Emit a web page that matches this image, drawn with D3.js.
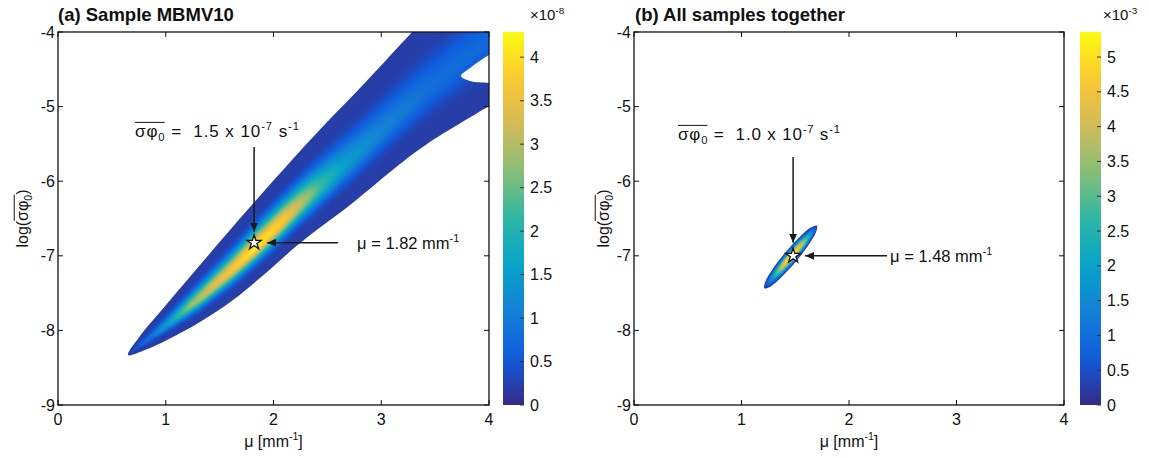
<!DOCTYPE html>
<html>
<head>
<meta charset="utf-8">
<script src="https://cdn.jsdelivr.net/npm/d3@7"></script>
<style>
  body { margin: 0; background: #fff; }
  svg { display: block; }
  text { font-family: "Liberation Sans", Arial, Helvetica, sans-serif; fill: #111; }
</style>
</head>
<body>
<svg id="chart" width="1151" height="457"></svg>
<script>
// ---------- axis ticks ----------
const muTicks = [0, 1, 2, 3, 4];
const logTicks = [-4, -5, -6, -7, -8, -9];
const cbTicksA = [0, 0.5, 1, 1.5, 2, 2.5, 3, 3.5, 4];
const cbTicksB = [0, 0.5, 1, 1.5, 2, 2.5, 3, 3.5, 4, 4.5, 5];

// ---------- panel (a): likelihood band, [mu, log(sigma*phi0)] ----------
// outline runs past the right/top frame, where it is cut by the axes
const bandA_upper = [[0.650, -8.33], [0.761, -8.075], [0.947, -7.753], [1.318, -7.123],
                     [1.782, -6.346], [2.367, -5.407], [2.803, -4.751], [3.295, -3.987],
                     [4.0, -2.90], [4.25, -2.55]];
const bandA_lower = [[0.650, -8.33], [0.807, -8.263], [1.012, -8.129], [1.318, -7.887],
                     [1.624, -7.592], [1.940, -7.217], [2.247, -6.828], [2.710, -6.319],
                     [3.174, -5.769], [3.425, -5.501], [4.0, -4.992], [4.25, -4.77]];
// peak value along the ridge of the band (x 1e-8)
const bandA_ridge = [[0.65, 0.3], [0.85, 0.8], [1.04, 1.6], [1.22, 2.7], [1.41, 3.3], [1.64, 3.7],
                     [1.83, 4.15], [2.07, 3.8], [2.25, 3.1], [2.44, 2.2], [2.67, 1.5], [3.0, 1.1],
                     [3.47, 0.8], [4.0, 0.7]];
// empty pocket at the right edge
const bandA_notch = [[3.740, -4.590], [3.824, -4.483], [4.0, -4.308], [4.1, -4.25],
                     [4.1, -4.70], [4.0, -4.684], [3.824, -4.657]];
const estA = { mu: 1.82, sigmaPhi: 1.5e-7 };

// ---------- panel (b): all samples ----------
const bandB_upper = [[1.213, -7.437], [1.220, -7.350], [1.292, -7.172], [1.407, -6.956],
                     [1.537, -6.754], [1.644, -6.622], [1.701, -6.595]];
const bandB_lower = [[1.213, -7.437], [1.271, -7.412], [1.377, -7.279], [1.507, -7.077],
                     [1.622, -6.858], [1.694, -6.682], [1.701, -6.595]];
const bandB_ridge = [[1.213, 0.3], [1.27, 1.4], [1.33, 3.0], [1.40, 4.6], [1.46, 5.25],
                     [1.52, 4.7], [1.58, 3.6], [1.64, 2.0], [1.701, 0.3]];
const estB = { mu: 1.48, sigmaPhi: 1.0e-7 };

// parula-like colormap stops
const parula = ["#352a87", "#0f5cdd", "#1481d6", "#06a4ca", "#2eb7a4",
                "#87bf77", "#d1bb59", "#fec832", "#f9fb0e"];

// ---------- layout ----------
const TOP = 32, BOTTOM = 405;
const panels = [
  { title: "(a) Sample MBMV10", titleX: 58, left: 58, right: 489, yTitleX: 28,
    cbX: 503, cbMax: 4.29, cbTicks: cbTicksA, cbExp: "-8", cbExpX: 530,
    upper: bandA_upper, lower: bandA_lower, ridge: bandA_ridge, frac: 0.58, rim: 0.2, k: 7,
    notch: bandA_notch, est: estA,
    sigmaText: "1.5", sigmaLabel: { x: 135, y: 137, len: 164 }, muLabel: { dx: 103, dy: 6 },
    vArrow: { top: 147, gap: 11 }, hArrow: { len: 84, gap: 13 } },
  { title: "(b) All samples together", titleX: 635, left: 634, right: 1064, yTitleX: 609,
    cbX: 1080, cbMax: 5.36, cbTicks: cbTicksB, cbExp: "-3", cbExpX: 1103,
    upper: bandB_upper, lower: bandB_lower, ridge: bandB_ridge, frac: 0.5, rim: 0.25, k: 2,
    notch: null, est: estB,
    sigmaText: "1.0", sigmaLabel: { x: 678, y: 140, len: 162 }, muLabel: { dx: 97, dy: 6 },
    vArrow: { top: 157, gap: 13 }, hArrow: { len: 94, gap: 12 } }
];

const svg = d3.select("#chart");
const FS = 16;

const cmap = d3.scaleLinear()
  .domain(parula.map((_, i) => i / (parula.length - 1)))
  .range(parula)
  .interpolate(d3.interpolateRgb)
  .clamp(true);

const defs = svg.append("defs");
defs.append("marker")
  .attr("id", "head").attr("viewBox", "0 0 10 10").attr("refX", 10).attr("refY", 5)
  .attr("markerWidth", 9).attr("markerHeight", 9).attr("markerUnits", "userSpaceOnUse")
  .attr("orient", "auto")
  .append("path").attr("d", "M0,0.6 L10,5 L0,9.4 Z").attr("fill", "#1a1a1a");

// text with super/subscripts and optional overline
function richText(g, x, y, parts, size, anchor, length) {
  const text = g.append("text").attr("x", x).attr("y", y).attr("font-size", size)
    .attr("text-anchor", anchor || "start").attr("xml:space", "preserve");
  if (length) text.attr("textLength", length).attr("lengthAdjust", "spacing");
  let shift = 0;
  const spans = parts.map(p => {
    const want = p.sup ? -0.42 * size : p.sub ? 0.22 * size : 0;
    const s = text.append("tspan").attr("dy", want - shift)
      .attr("font-size", (p.sup || p.sub) ? size * 0.66 : size).text(p.t);
    shift = want;
    return { s, p };
  });
  const over = spans.filter(d => d.p.over);
  if (over.length) {
    const a = over[0].s.node(), b = over[over.length - 1].s.node();
    const x0 = a.getStartPositionOfChar(0).x;
    const x1 = b.getEndPositionOfChar(b.getNumberOfChars() - 1).x;
    g.append("line").attr("x1", x0).attr("x2", x1)
      .attr("y1", y - size * 0.86).attr("y2", y - size * 0.86)
      .attr("stroke", "#111").attr("stroke-width", 1);
  }
  return text;
}

// shaded density inside the band, cut to a smooth outline by a mask
function drawField(g, p, x, y, idx) {
  const ss = 2;
  const w = Math.round((p.right - p.left) * ss), h = Math.round((BOTTOM - TOP) * ss);
  const cv = document.createElement("canvas");
  cv.width = w; cv.height = h;
  const ctx = cv.getContext("2d");
  const img = ctx.createImageData(w, h);
  const up = d3.scaleLinear().domain(p.upper.map(d => d[0])).range(p.upper.map(d => d[1]));
  const lo = d3.scaleLinear().domain(p.lower.map(d => d[0])).range(p.lower.map(d => d[1]));
  const rv = d3.scaleLinear().domain(p.ridge.map(d => d[0])).range(p.ridge.map(d => d[1])).clamp(true);
  const muMin = Math.max(p.upper[0][0], p.lower[0][0]);
  const muMax = Math.min(p.upper[p.upper.length - 1][0], p.lower[p.lower.length - 1][0]);
  const lut = d3.range(256).map(i => d3.rgb(cmap(i / 255)));
  const rimC = lut[Math.round(p.rim / p.cbMax * 255)];
  for (let i = 0; i < w; i++) {
    const mu = x.invert(p.left + (i + 0.5) / ss);
    const inside = mu >= muMin && mu <= muMax;
    const Lu = inside ? up(mu) : 0, Ll = inside ? lo(mu) : 0;
    const Lr = Lu + p.frac * (Ll - Lu), vr = rv(mu);
    for (let j = 0; j < h; j++) {
      const L = y.invert(TOP + (j + 0.5) / ss);
      let c = rimC;
      if (inside && L <= Lu && L >= Ll) {
        const d = L >= Lr ? (L - Lr) / Math.max(Lu - Lr, 1e-9) : (Lr - L) / Math.max(Lr - Ll, 1e-9);
        const v = p.rim + (vr - p.rim) * Math.pow(Math.max(0, 1 - d * d), p.k);
        c = lut[Math.max(0, Math.min(255, Math.round(v / p.cbMax * 255)))];
      }
      const o = (j * w + i) * 4;
      img.data[o] = c.r; img.data[o + 1] = c.g; img.data[o + 2] = c.b; img.data[o + 3] = 255;
    }
  }
  ctx.putImageData(img, 0, 0);

  // smooth outline of the band
  const ring = p.upper.concat(p.lower.slice(1).reverse()
    .filter(d => !p.upper.some(u => u[0] === d[0] && u[1] === d[1])));
  const outline = d3.line().x(d => x(d[0])).y(d => y(d[1]))
    .curve(d3.curveCatmullRomClosed.alpha(0.5));
  const mask = defs.append("mask").attr("id", "band" + idx).attr("maskUnits", "userSpaceOnUse")
    .attr("x", 0).attr("y", 0).attr("width", 1151).attr("height", 457);
  mask.append("path").attr("d", outline(ring)).attr("fill", "#fff");
  if (p.notch) mask.append("path").attr("d", outline(p.notch)).attr("fill", "#000");

  g.append("image")
    .attr("x", p.left).attr("y", TOP)
    .attr("width", p.right - p.left).attr("height", BOTTOM - TOP)
    .attr("preserveAspectRatio", "none")
    .attr("href", cv.toDataURL())
    .attr("mask", `url(#band${idx})`);
}

panels.forEach((p, idx) => {
  const g = svg.append("g");
  const x = d3.scaleLinear().domain([0, 4]).range([p.left, p.right]);
  const y = d3.scaleLinear().domain([-4, -9]).range([TOP, BOTTOM]);

  drawField(g, p, x, y, idx);

  // frame
  g.append("rect").attr("x", p.left).attr("y", TOP)
    .attr("width", p.right - p.left).attr("height", BOTTOM - TOP)
    .attr("fill", "none").attr("stroke", "#111").attr("stroke-width", 1.3);

  // inward ticks on all sides
  const tl = 5;
  muTicks.forEach(t => {
    g.append("line").attr("x1", x(t)).attr("x2", x(t)).attr("y1", BOTTOM).attr("y2", BOTTOM - tl)
      .attr("stroke", "#111");
    g.append("line").attr("x1", x(t)).attr("x2", x(t)).attr("y1", TOP).attr("y2", TOP + tl)
      .attr("stroke", "#111");
    g.append("text").attr("x", x(t)).attr("y", 425).attr("text-anchor", "middle")
      .attr("font-size", FS).text(t);
  });
  logTicks.forEach(t => {
    g.append("line").attr("x1", p.left).attr("x2", p.left + tl).attr("y1", y(t)).attr("y2", y(t))
      .attr("stroke", "#111");
    g.append("line").attr("x1", p.right).attr("x2", p.right - tl).attr("y1", y(t)).attr("y2", y(t))
      .attr("stroke", "#111");
    g.append("text").attr("x", p.left - 3).attr("y", y(t) + 5.5).attr("text-anchor", "end")
      .attr("font-size", FS).text(t);
  });

  // axis titles
  richText(g, (p.left + p.right) / 2, 447,
    [{ t: "μ [mm" }, { t: "-1", sup: true }, { t: "]" }], FS, "middle");
  const yt = g.append("g").attr("transform", `translate(${p.yTitleX},${(TOP + BOTTOM) / 2}) rotate(-90)`);
  richText(yt, 0, 0,
    [{ t: "log(" }, { t: "σφ", over: true }, { t: "0", sub: true, over: true }, { t: ")" }], FS, "middle");

  // panel title
  g.append("text").attr("x", p.titleX).attr("y", 21).attr("font-size", 18.5)
    .attr("font-weight", "bold").text(p.title);

  // colorbar
  const cbW = 21;
  const cy = d3.scaleLinear().domain([0, p.cbMax]).range([BOTTOM, TOP]);
  const gid = "cbgrad" + idx;
  const grad = defs.append("linearGradient").attr("id", gid)
    .attr("x1", 0).attr("y1", 1).attr("x2", 0).attr("y2", 0);
  d3.range(0, 1.0001, 0.05).forEach(f => {
    grad.append("stop").attr("offset", f).attr("stop-color", cmap(f));
  });
  g.append("rect").attr("x", p.cbX).attr("y", TOP).attr("width", cbW).attr("height", BOTTOM - TOP)
    .attr("fill", `url(#${gid})`);
  p.cbTicks.forEach(t => {
    g.append("line").attr("x1", p.cbX + cbW - 4).attr("x2", p.cbX + cbW)
      .attr("y1", cy(t)).attr("y2", cy(t)).attr("stroke", "#333").attr("stroke-width", 1);
    g.append("text").attr("x", p.cbX + cbW + 6).attr("y", cy(t) + 5.5)
      .attr("font-size", FS).text(t);
  });
  richText(g, p.cbExpX, 20, [{ t: "×10" }, { t: p.cbExp, sup: true }], 15);

  // best estimate and annotations
  const sx = x(p.est.mu), sy = y(Math.log10(p.est.sigmaPhi));
  g.append("line").attr("x1", sx).attr("x2", sx)
    .attr("y1", p.vArrow.top).attr("y2", sy - p.vArrow.gap)
    .attr("stroke", "#1a1a1a").attr("stroke-width", 1.5).attr("marker-end", "url(#head)");
  g.append("line").attr("x1", sx + p.hArrow.len).attr("x2", sx + p.hArrow.gap)
    .attr("y1", sy).attr("y2", sy)
    .attr("stroke", "#1a1a1a").attr("stroke-width", 1.5).attr("marker-end", "url(#head)");
  g.append("path")
    .attr("transform", `translate(${sx},${sy})`)
    .attr("d", d3.symbol(d3.symbolStar).size(66)())
    .attr("fill", "#fff").attr("stroke", "#111").attr("stroke-width", 1.3);

  richText(g, p.sigmaLabel.x, p.sigmaLabel.y,
    [{ t: "σφ", over: true }, { t: "0", sub: true, over: true },
     { t: " =  " + p.sigmaText + " x 10" }, { t: "-7", sup: true }, { t: " s" }, { t: "-1", sup: true }],
    17, "start", p.sigmaLabel.len);
  richText(g, sx + p.muLabel.dx, sy + p.muLabel.dy,
    [{ t: "μ = " + p.est.mu.toFixed(2) + " mm" }, { t: "-1", sup: true }], 16.5);
});
</script>
</body>
</html>
